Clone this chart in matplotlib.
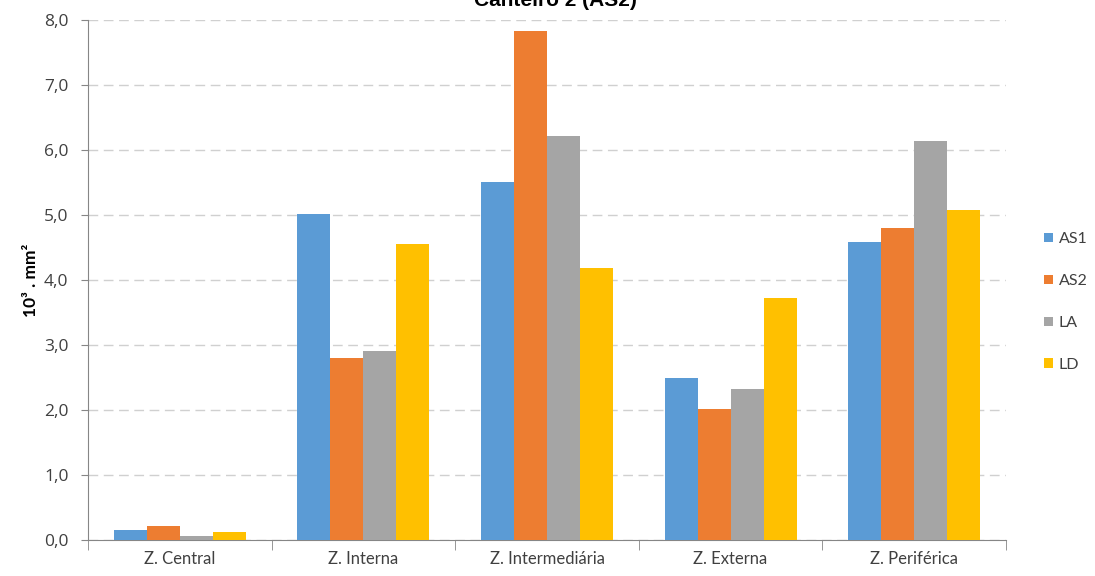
import numpy as np
import matplotlib.pyplot as plt

zonas = ['Z. Central', 'Z. Interna', 'Z. Intermediária', 'Z. Externa', 'Z. Periférica']
series = ['AS1', 'AS2', 'LA', 'LD']
as1 = [0.16, 5.01, 5.51, 2.50, 4.58]
as2 = [0.22, 2.80, 7.83, 2.01, 4.80]
la = [0.06, 2.91, 6.21, 2.33, 6.14]
ld = [0.12, 4.55, 4.18, 3.72, 5.07]
cores = ['#5b9bd5', '#ed7d31', '#a5a5a5', '#ffc000']

plt.rcParams['font.family'] = ['Lato', 'DejaVu Sans']

fig = plt.figure(figsize=(10.95, 5.76), dpi=100)
ax = fig.add_axes([88/1095, 1-540/576, 918/1095, 520/576])

x = np.arange(len(zonas))
w = 0.18
for i, (nome, vals) in enumerate(zip(series, [as1, as2, la, ld])):
    ax.bar(x + (i - 1.5) * w, vals, w, color=cores[i], label=nome, zorder=3)

ax.set_xlim(-0.5, len(zonas) - 0.5)
ax.set_ylim(0, 8)
yt = np.arange(0, 8.1, 1.0)
ax.set_yticks(yt)
ax.set_yticklabels([f'{v:.1f}'.replace('.', ',') for v in yt],
                   fontsize=12.5, color='#404040', family=['Open Sans', 'DejaVu Sans'])
ax.yaxis.grid(True, color='#d0d0d0', linestyle=(0, (7, 4)), linewidth=1, zorder=0)

# categorias no centro, marcas nos limites entre grupos
ax.set_xticks(x)
ax.set_xticklabels(zonas, fontsize=12, color='#404040')
ax.tick_params(axis='x', length=0, pad=8)
ax.set_xticks(np.arange(-0.5, len(zonas)), minor=True)
ax.tick_params(axis='x', which='minor', length=7, color='#868686')
ax.tick_params(axis='y', length=5, color='#868686', pad=9)

for s in ['top', 'right']:
    ax.spines[s].set_visible(False)
for s in ['left', 'bottom']:
    ax.spines[s].set_color('#868686')

ax.set_ylabel('10³ . mm²', fontsize=12.5, fontweight='bold', labelpad=4)

fig.text(0.507, 1 - 6/576, 'Canteiro 2 (AS2)', ha='center', va='baseline',
         fontsize=15, fontweight='bold', family=['Liberation Sans', 'DejaVu Sans'])

fig.legend(loc='center left', bbox_to_anchor=(1030/1095, 1 - 302/576), frameon=False,
           fontsize=11.5, handlelength=0.55, handleheight=0.55, handletextpad=0.35,
           labelspacing=1.75, labelcolor='#404040')

fig.savefig('out.png', dpi=100)
